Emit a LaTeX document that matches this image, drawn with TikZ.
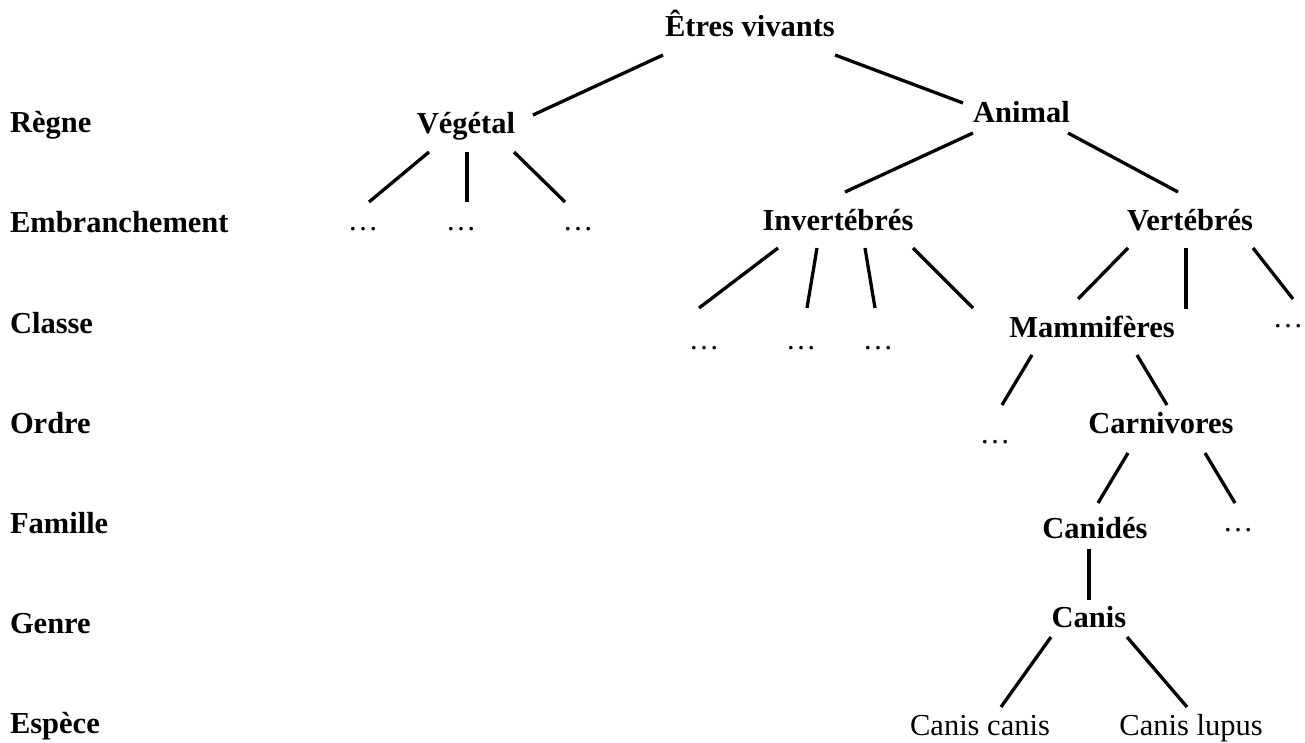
\documentclass[tikz,border=0pt]{standalone}
\usepackage{fontspec}
\setmainfont{Liberation Serif}
\usetikzlibrary{calc}
\tikzset{
  txt/.style={anchor=base, inner sep=0pt, outer sep=0pt, font=\fontsize{30.5}{36}\selectfont},
  bnode/.style={txt, font=\fontsize{30.5}{36}\selectfont\bfseries},
  lab/.style={bnode, anchor=base west},
  dotsnode/.style={txt},
  link/.style={line width=3.3pt, line cap=butt}
}
\begin{document}
\begin{tikzpicture}[x=1pt,y=-1pt]
\useasboundingbox (0,0) rectangle (1305,742);
% level labels
\node[lab] (l1) at (10,132) {Règne};
\node[lab] (l2) at (10,232) {Embranchement};
\node[lab] (l3) at (10,333) {Classe};
\node[lab] (l4) at (10,433) {Ordre};
\node[lab] (l5) at (10,533) {Famille};
\node[lab] (l6) at (10,633) {Genre};
\node[lab] (l7) at (10,733) {Espèce};
% tree nodes
\node[bnode] (root) at (750,36) {Êtres vivants};
\node[bnode] (veg) at (466,133) {Végétal};
\node[bnode] (ani) at (1021.5,122) {Animal};
\node[dotsnode] (e1) at (363,230) {…};
\node[dotsnode] (e2) at (461,230) {…};
\node[dotsnode] (e3) at (578,230) {…};
\node[bnode] (inv) at (838,230) {Invertébrés};
\node[bnode] (vert) at (1190,230) {Vertébrés};
\node[dotsnode] (c1) at (704,349) {…};
\node[dotsnode] (c2) at (801,349) {…};
\node[dotsnode] (c3) at (878,349) {…};
\node[bnode] (mam) at (1092,337) {Mammifères};
\node[dotsnode] (c5) at (1288,327) {…};
\node[dotsnode] (o1) at (995,443) {…};
\node[bnode] (carn) at (1161,433) {Carnivores};
\node[bnode] (can) at (1095,538) {Canidés};
\node[dotsnode] (f2) at (1238,531) {…};
\node[bnode] (canis) at (1089,627) {Canis};
\node[txt] (sp1) at (980,735) {Canis canis};
\node[txt] (sp2) at (1191,735) {Canis lupus};
% free ends
\coordinate (invend) at (973,308);
\coordinate (vertend) at (1186,309);
% connectors
\draw[link] ($(root.base)+(-87,19)$) -- ($(veg.base)+(67,-18)$);
\draw[link] ($(root.base)+(85,19)$) -- ($(ani.base)+(-58.5,-19)$);
\draw[link] ($(veg.base)+(-37,19)$) -- ($(e1.base)+(6,-28)$);
\draw[link] ($(veg.base)+(1,19)$) -- ($(e2.base)+(6,-28)$);
\draw[link] ($(veg.base)+(48,19)$) -- ($(e3.base)+(-13,-28)$);
\draw[link] ($(ani.base)+(-48.5,11)$) -- ($(inv.base)+(7,-38)$);
\draw[link] ($(ani.base)+(46.5,11)$) -- ($(vert.base)+(-12,-38)$);
\draw[link] ($(inv.base)+(-60,18)$) -- ($(c1.base)+(-5,-41)$);
\draw[link] ($(inv.base)+(-21,18)$) -- ($(c2.base)+(6,-41)$);
\draw[link] ($(inv.base)+(27,18)$) -- ($(c3.base)+(-3,-41)$);
\draw[link] ($(inv.base)+(75,18)$) -- (invend);
\draw[link] ($(vert.base)+(-62,18)$) -- ($(mam.base)+(-14,-38)$);
\draw[link] ($(vert.base)+(-4,18)$) -- (vertend);
\draw[link] ($(vert.base)+(63,18)$) -- ($(c5.base)+(5,-28)$);
\draw[link] ($(mam.base)+(-60,18)$) -- ($(o1.base)+(7,-38)$);
\draw[link] ($(mam.base)+(45,18)$) -- ($(carn.base)+(6,-28)$);
\draw[link] ($(carn.base)+(-33,20)$) -- ($(can.base)+(3,-35)$);
\draw[link] ($(carn.base)+(44,20)$) -- ($(f2.base)+(-3,-28)$);
\draw[link] ($(can.base)+(-6,11)$) -- ($(canis.base)+(0,-27)$);
\draw[link] ($(canis.base)+(-38,10)$) -- ($(sp1.base)+(21,-28)$);
\draw[link] ($(canis.base)+(38,10)$) -- ($(sp2.base)+(-4,-28)$);
\end{tikzpicture}
\end{document}
